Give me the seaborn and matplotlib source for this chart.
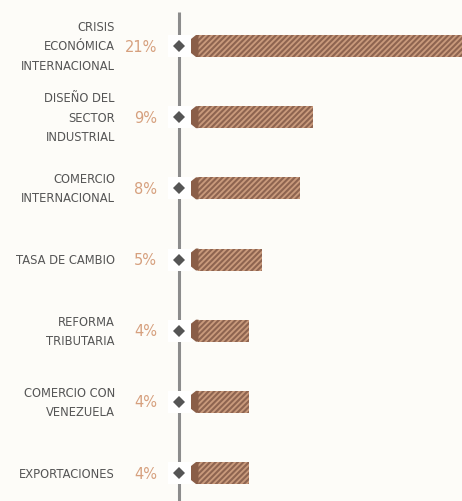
import matplotlib
matplotlib.use("Agg")
import matplotlib.pyplot as plt
import seaborn as sns
import pandas as pd
from matplotlib.patches import Polygon, Rectangle

categories = ["CRISIS\nECONÓMICA\nINTERNACIONAL", "DISEÑO DEL\nSECTOR\nINDUSTRIAL",
              "COMERCIO\nINTERNACIONAL", "TASA DE CAMBIO", "REFORMA\nTRIBUTARIA",
              "COMERCIO CON\nVENEZUELA", "EXPORTACIONES"]
values = [21, 9, 8, 5, 4, 4, 4]
pct_labels = ["21%", "9%", "8%", "5%", "4%", "4%", "4%"]

BG = "#fdfcf8"
BAR = "#c99a7c"
STRIPE = "#8e6450"
CAP = "#8a5e48"

sns.set_theme(style="white")
plt.rcParams["hatch.linewidth"] = 1.5
plt.rcParams["font.family"] = ["DejaVu Sans"]

W, H = 462, 502
fig = plt.figure(figsize=(W / 100, H / 100), dpi=100, facecolor=BG)
ax = fig.add_axes([0, 0, 1, 1])
ax.set_facecolor(BG)

df = pd.DataFrame({"cat": categories, "val": values})

PXU = 12.8          # pixels per percent
X0 = 198            # pixel x of zero
def xd(px):
    return (px - X0) / PXU

Y0 = 47.0
DY = 71.17
def yd(py):
    return (py - Y0) / DY

bh = 22 / DY
HATCH = "//////"
sns.barplot(data=df, x="val", y="cat", orient="h", ax=ax, width=bh,
            color=BAR, edgecolor=STRIPE, linewidth=0, hatch=HATCH,
            saturation=1)
for p in ax.patches:
    p.set_hatch(HATCH)
    p.set_edgecolor(STRIPE)
    p.set_facecolor(BAR)
    p.set_linewidth(0)

ax.set_xlim(xd(0), xd(W))
ax.set_ylim(yd(H), yd(0))
ax.axis("off")

# vertical guide line
ax.plot([xd(179), xd(179)], [yd(13), yd(H)], color="#8c8c8c", lw=2.2,
        solid_capstyle="butt", zorder=1)

for i, (cat, lab) in enumerate(zip(categories, pct_labels)):
    # white box behind diamond
    ax.add_patch(Rectangle((xd(168), i - bh / 2), xd(192) - xd(168), bh,
                           facecolor="white", edgecolor="none", zorder=2))
    ax.plot([xd(179)], [i], marker="D", ms=6.2, color="#555555", zorder=3,
            markeredgewidth=0)
    # cap
    s = 4 / DY
    t = 11 / DY
    ax.add_patch(Polygon([(xd(191), i - t + s), (xd(196), i - t), (xd(198.5), i - t),
                          (xd(198.5), i + t), (xd(196), i + t), (xd(191), i + t - s)],
                         closed=True, facecolor=CAP, edgecolor="none", zorder=4))
    ax.text(xd(157), i, lab, ha="right", va="center", fontsize=10.5,
            color="#d6a07e")
    ax.text(xd(115), i, cat, ha="right", va="center", fontsize=8.3,
            color="#555555", linespacing=1.62, multialignment="right")

fig.savefig("out.png", dpi=100, facecolor=BG)
